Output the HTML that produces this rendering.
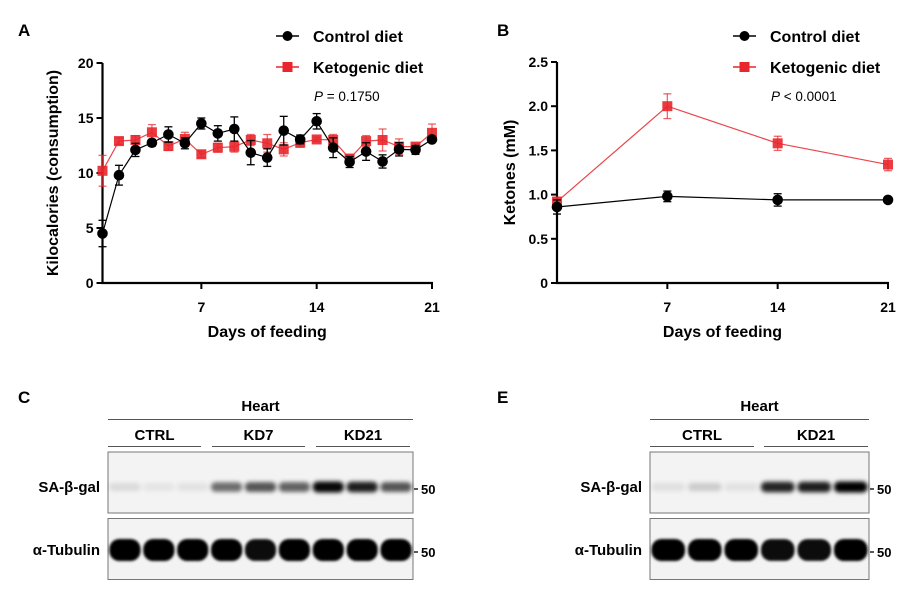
<!DOCTYPE html>
<html><head><meta charset="utf-8">
<style>
html,body{margin:0;padding:0;background:#fff;}
svg{display:block;font-family:"Liberation Sans",sans-serif;}
.b{font-weight:bold;}
</style></head>
<body>
<svg id="fig" width="912" height="590" viewBox="0 0 912 590">
<defs>
<filter id="blur1" x="-50%" y="-100%" width="200%" height="300%"><feGaussianBlur stdDeviation="2"/></filter>
<filter id="blur2" x="-50%" y="-100%" width="200%" height="300%"><feGaussianBlur stdDeviation="1.3"/></filter>
</defs>
<g id="chartA"></g>
<g id="chartB"></g>
<g id="blots"></g>
</svg>
<script>
// ---------- Chart A data ----------
const daysA = [1,2,3,4,5,6,7,8,9,10,11,12,13,14,15,16,17,18,19,20,21];
const ctrlA = [4.5,9.8,12.1,12.75,13.5,12.7,14.5,13.6,14.0,11.85,11.4,13.85,13.05,14.7,12.3,11.0,11.95,11.05,12.15,12.1,13.05];
const ctrlErrA = [1.2,0.9,0.6,0.3,0.7,0.5,0.5,0.7,1.1,1.1,0.8,1.3,0.4,0.7,0.9,0.5,0.8,0.6,0.6,0.4,0.2];
const ketoA = [10.2,12.9,13.0,13.7,12.45,13.1,11.7,12.3,12.4,13.0,12.7,12.15,12.75,13.05,13.0,11.3,12.9,13.0,12.4,12.4,13.65];
const ketoErrA = [1.4,0.3,0.4,0.7,0.4,0.6,0.3,0.4,0.5,0.5,0.8,0.6,0.4,0.2,0.5,0.4,0.5,1.0,0.7,0.3,0.8];
const yTicksA = [0,5,10,15,20];
const xTicksA = [7,14,21];
// ---------- Chart B data ----------
const daysB = [0,7,14,21];
const ctrlB = [0.86,0.98,0.94,0.94];
const ctrlErrB = [0.08,0.06,0.07,0.01];
const ketoB = [0.92,2.0,1.58,1.34];
const ketoErrB = [0.05,0.14,0.08,0.07];
const yTicksB = [0,0.5,1.0,1.5,2.0,2.5];
const yTickLabelsB = ["0","0.5","1.0","1.5","2.0","2.5"];
const xTicksB = [7,14,21];
// ---------- Blot band intensities ----------
const blotCGal = [0.1,0.06,0.07,0.55,0.65,0.6,0.97,0.88,0.65];
const blotCTub = [1,1,1,1,0.95,1,1,1,1];
const blotEGal = [0.08,0.16,0.07,0.85,0.88,1];
const blotETub = [1,1,1,0.95,0.95,1];

const NS='http://www.w3.org/2000/svg';
function mk(parent,tag,attrs,text){const e=document.createElementNS(NS,tag);for(const k in attrs)e.setAttribute(k,attrs[k]);if(text!==undefined)e.textContent=text;parent.appendChild(e);return e;}

function drawChart(g,o){
  const sx=v=>o.x0+(v-o.xmin)/(o.xmax-o.xmin)*(o.x1-o.x0);
  const sy=v=>o.y0-(v-o.ymin)/(o.ymax-o.ymin)*(o.y0-o.y1);
  let a=mk(g,'line',{x1:o.x0,y1:o.y1,x2:o.x0,y2:o.y0,stroke:'#000','stroke-width':2.2});
  
  a=mk(g,'line',{x1:o.x0-1,y1:o.y0,x2:o.x1+1,y2:o.y0,stroke:'#000','stroke-width':2.2});
  
  o.yTicks.forEach((v,i)=>{
    mk(g,'line',{x1:o.x0-6,x2:o.x0,y1:sy(v),y2:sy(v),stroke:'#000','stroke-width':2});
    const t=mk(g,'text',{x:o.x0-9,y:sy(v)+5,'text-anchor':'end','font-size':14,class:'b'},o.yLabels?o.yLabels[i]:String(v));
    
  });
  o.xTicks.forEach(v=>{
    mk(g,'line',{x1:sx(v),x2:sx(v),y1:o.y0,y2:o.y0+6,stroke:'#000','stroke-width':2});
    const t=mk(g,'text',{x:sx(v),y:o.y0+29,'text-anchor':'middle','font-size':14,class:'b'},String(v));
    
  });
  let t=mk(g,'text',{x:(o.x0+o.x1)/2,y:o.y0+54,'text-anchor':'middle','font-size':16,class:'b'},'Days of feeding');
  
  const cy=(o.y0+o.y1)/2;
  t=mk(g,'text',{x:o.ytx,y:cy,'text-anchor':'middle','font-size':16,class:'b',transform:`rotate(-90 ${o.ytx} ${cy})`},o.ytitle);
  
  t=mk(g,'text',{x:o.px,y:o.py,'font-size':17,class:'b'},o.letter);
  
  const series=[{v:o.keto,e:o.ketoErr,c:'#e8262b',sq:true,name:'ketogenic'},{v:o.ctrl,e:o.ctrlErr,c:'#000',sq:false,name:'control'}];
  series.forEach(s=>{
    const sg=mk(g,'g',{});
    
    const pts=o.days.map((d,i)=>sx(d)+','+sy(s.v[i])).join(' ');
    mk(sg,'polyline',{points:pts,fill:'none',stroke:s.c,'stroke-width':1.2,opacity:s.sq?0.85:1});
    o.days.forEach((d,i)=>{
      const x=sx(d),yt=sy(s.v[i]+s.e[i]),yb=sy(s.v[i]-s.e[i]);
      mk(sg,'line',{x1:x,x2:x,y1:yt,y2:yb,stroke:s.c,'stroke-width':1.3,opacity:s.sq?0.7:1});
      mk(sg,'line',{x1:x-4,x2:x+4,y1:yt,y2:yt,stroke:s.c,'stroke-width':1.3,opacity:s.sq?0.7:1});
      mk(sg,'line',{x1:x-4,x2:x+4,y1:yb,y2:yb,stroke:s.c,'stroke-width':1.3,opacity:s.sq?0.7:1});
      let m;
      if(s.sq){m=mk(sg,'rect',{x:x-5,y:sy(s.v[i])-5,width:10,height:10,fill:s.c,opacity:0.9});}
      else{m=mk(sg,'circle',{cx:x,cy:sy(s.v[i]),r:5.3,fill:'#000'});}
      
      
    });
  });
  const lg=mk(g,'g',{});
  
  mk(lg,'line',{x1:o.lx,x2:o.lx+23,y1:36,y2:36,stroke:'#000','stroke-width':1.5});
  mk(lg,'circle',{cx:o.lx+11.5,cy:36,r:5,fill:'#000'});
  t=mk(lg,'text',{x:o.lx+37,y:42,'font-size':16,class:'b'},'Control diet');
  
  mk(lg,'line',{x1:o.lx,x2:o.lx+23,y1:67,y2:67,stroke:'#e8262b','stroke-width':1.5});
  mk(lg,'rect',{x:o.lx+6.5,y:62,width:10,height:10,fill:'#e8262b'});
  t=mk(lg,'text',{x:o.lx+37,y:73,'font-size':16,class:'b'},'Ketogenic diet');
  
  t=mk(lg,'text',{x:o.lx+38,y:101,'font-size':13.5});
  mk(t,'tspan',{'font-style':'italic'},'P');
  mk(t,'tspan',{},o.ptext);
  
}

drawChart(document.getElementById('chartA'),{
  x0:102.5,x1:432,xmin:1,xmax:21,y0:283,y1:63,ymin:0,ymax:20,
  yTicks:yTicksA,xTicks:xTicksA,days:daysA,ctrl:ctrlA,ctrlErr:ctrlErrA,keto:ketoA,ketoErr:ketoErrA,
  ytitle:'Kilocalories (consumption)',ytx:58,letter:'A',px:18,py:36,lx:276,ptext:' = 0.1750'
});
drawChart(document.getElementById('chartB'),{
  x0:557,x1:888,xmin:0,xmax:21,y0:283,y1:62,ymin:0,ymax:2.5,
  yTicks:yTicksB,yLabels:yTickLabelsB,xTicks:xTicksB,days:daysB,ctrl:ctrlB,ctrlErr:ctrlErrB,keto:ketoB,ketoErr:ketoErrB,
  ytitle:'Ketones (mM)',ytx:515,letter:'B',px:497,py:36,lx:733,ptext:' < 0.0001'
});

function drawBlot(g,o){
  let t=mk(g,'text',{x:o.lx,y:403,'font-size':17,class:'b'},o.letter);
  
  t=mk(g,'text',{x:(o.x0+o.x1)/2,y:411,'text-anchor':'middle','font-size':15,class:'b'},'Heart');
  
  mk(g,'line',{x1:o.x0,x2:o.x1,y1:419.5,y2:419.5,stroke:'#555','stroke-width':1});
  o.groups.forEach(gr=>{
    mk(g,'line',{x1:gr[1],x2:gr[2],y1:446.5,y2:446.5,stroke:'#555','stroke-width':1});
    const tt=mk(g,'text',{x:(gr[1]+gr[2])/2,y:440,'text-anchor':'middle','font-size':15,class:'b'},gr[0]);
    
  });
  const rows=[{y:452,h:61,band:487,vals:o.gal,name:'SA-β-gal',bh:11,dy:494,f:'url(#blur1)'},{y:518.5,h:61,band:550,vals:o.tub,name:'α-Tubulin',bh:22,dy:557,f:'url(#blur2)'}];
  rows.forEach(r=>{
    const box=mk(g,'rect',{x:o.x0,y:r.y,width:o.x1-o.x0,height:r.h,fill:'#f3f3f3',stroke:'#777','stroke-width':1});
    
    const lw=(o.x1-o.x0)/r.vals.length;
    r.vals.forEach((v,i)=>{
      const cx=o.x0+lw*(i+0.5);
      const h=r.bh*(0.7+0.3*v);
      const b=mk(g,'rect',{x:cx-lw*0.46,y:r.band-h/2,width:lw*0.92,height:h,rx:h/2.2,fill:'#000','fill-opacity':v,filter:r.f});
      
      
    });
    const l=mk(g,'text',{x:o.x0-8,y:r.band+5,'text-anchor':'end','font-size':15,class:'b'},r.name);
    
    mk(g,'line',{x1:o.x1+1,x2:o.x1+5,y1:r.dy-5,y2:r.dy-5,stroke:'#000','stroke-width':1.3});
    const m=mk(g,'text',{x:o.x1+8,y:r.dy,'font-size':13,class:'b'},'50');
    
  });
}
const blots=document.getElementById('blots');
const gC=mk(blots,'g',{});

drawBlot(gC,{letter:'C',lx:18,x0:108,x1:413,groups:[['CTRL',108,201],['KD7',212,305],['KD21',316,410]],gal:blotCGal,tub:blotCTub});
const gE=mk(blots,'g',{});

drawBlot(gE,{letter:'E',lx:497,x0:650,x1:869,groups:[['CTRL',650,754],['KD21',764,868]],gal:blotEGal,tub:blotETub});
</script>
</body></html>
